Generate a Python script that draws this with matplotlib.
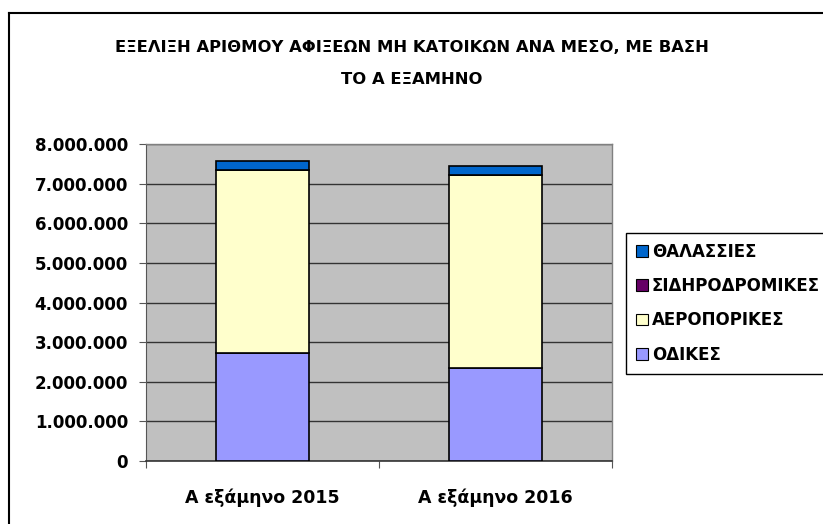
import numpy as np
import matplotlib.pyplot as plt
from matplotlib.patches import Patch
from matplotlib.lines import Line2D
from matplotlib.ticker import FuncFormatter

# δεδομένα (εκτίμηση από το γράφημα)
periods = ['Α εξάμηνο 2015', 'Α εξάμηνο 2016']
odikes = [2720000, 2340000]
aeroporikes = [4630000, 4880000]
sidirodromikes = [10000, 10000]
thalassies = [230000, 210000]

series = [
    ('ΟΔΙΚΕΣ', odikes, '#9999FF'),
    ('ΑΕΡΟΠΟΡΙΚΕΣ', aeroporikes, '#FFFFCC'),
    ('ΣΙΔΗΡΟΔΡΟΜΙΚΕΣ', sidirodromikes, '#660066'),
    ('ΘΑΛΑΣΣΙΕΣ', thalassies, '#0066CC'),
]

plt.rcParams['font.family'] = ['DejaVu Sans']
plt.rcParams['font.weight'] = 'bold'

fig = plt.figure(figsize=(8.23, 5.24), dpi=100)
ax = fig.add_axes([0.1774, 0.1208, 0.5662, 0.6038])
ax.set_facecolor('#C0C0C0')

x = np.arange(len(periods))
bottom = np.zeros(len(periods))
for name, vals, col in series:
    ax.bar(x, vals, 0.4, bottom=bottom, color=col, edgecolor='black',
           linewidth=1.2, zorder=3)
    bottom += np.array(vals)

ax.set_xlim(-0.5, 1.5)
ax.set_ylim(0, 8000000)
ax.set_yticks(np.arange(0, 8000001, 1000000))
ax.yaxis.set_major_formatter(FuncFormatter(lambda v, p: f'{int(v):,}'.replace(',', '.')))
ax.grid(axis='y', color='#333333', linewidth=1, zorder=1)

ax.set_xticks([-0.5, 0.5, 1.5])
ax.set_xticklabels([])
ax.set_xticks(x, minor=True)
ax.set_xticklabels(periods, minor=True, fontsize=12.5, fontweight='bold')
ax.tick_params(axis='x', which='minor', length=0, pad=20)
ax.tick_params(axis='x', which='major', length=5, color='#555555')
ax.tick_params(axis='y', length=5, color='#555555', labelsize=12, pad=8)

for s in ['top', 'right']:
    ax.spines[s].set_color('#808080')
    ax.spines[s].set_linewidth(1)
ax.spines['left'].set_color('#555555')
ax.spines['bottom'].set_color('#333333')
ax.spines['bottom'].set_linewidth(1.2)

fig.text(0.5, 0.910, 'ΕΞΕΛΙΞΗ ΑΡΙΘΜΟΥ ΑΦΙΞΕΩΝ ΜΗ ΚΑΤΟΙΚΩΝ ΑΝΑ ΜΕΣΟ, ΜΕ ΒΑΣΗ',
         ha='center', va='center', fontsize=11.8, fontweight='bold')
fig.text(0.5, 0.849, 'ΤΟ Α ΕΞΑΜΗΝΟ', ha='center', va='center',
         fontsize=11.8, fontweight='bold')

handles = [Patch(facecolor=col, edgecolor='black', linewidth=0.8, label=name)
           for name, vals, col in series[::-1]]
leg = fig.legend(handles=handles, loc='upper left', bbox_to_anchor=(0.7606, 0.556),
                 fontsize=12, frameon=True, fancybox=False, borderaxespad=0,
                 handlelength=0.7, handleheight=0.7, handletextpad=0.25,
                 labelspacing=0.98, borderpad=0.6)
leg.get_frame().set_edgecolor('black')
leg.get_frame().set_linewidth(1)
leg.get_frame().set_alpha(1)

# πλαίσιο γραφήματος
fig.add_artist(Line2D([0.0105, 0.0105], [-0.1, 0.975], color='black', linewidth=1.5,
                      transform=fig.transFigure))
fig.add_artist(Line2D([0.0105, 1.1], [0.975, 0.975], color='black', linewidth=1.5,
                      transform=fig.transFigure))

fig.savefig('out.png', dpi=100)
